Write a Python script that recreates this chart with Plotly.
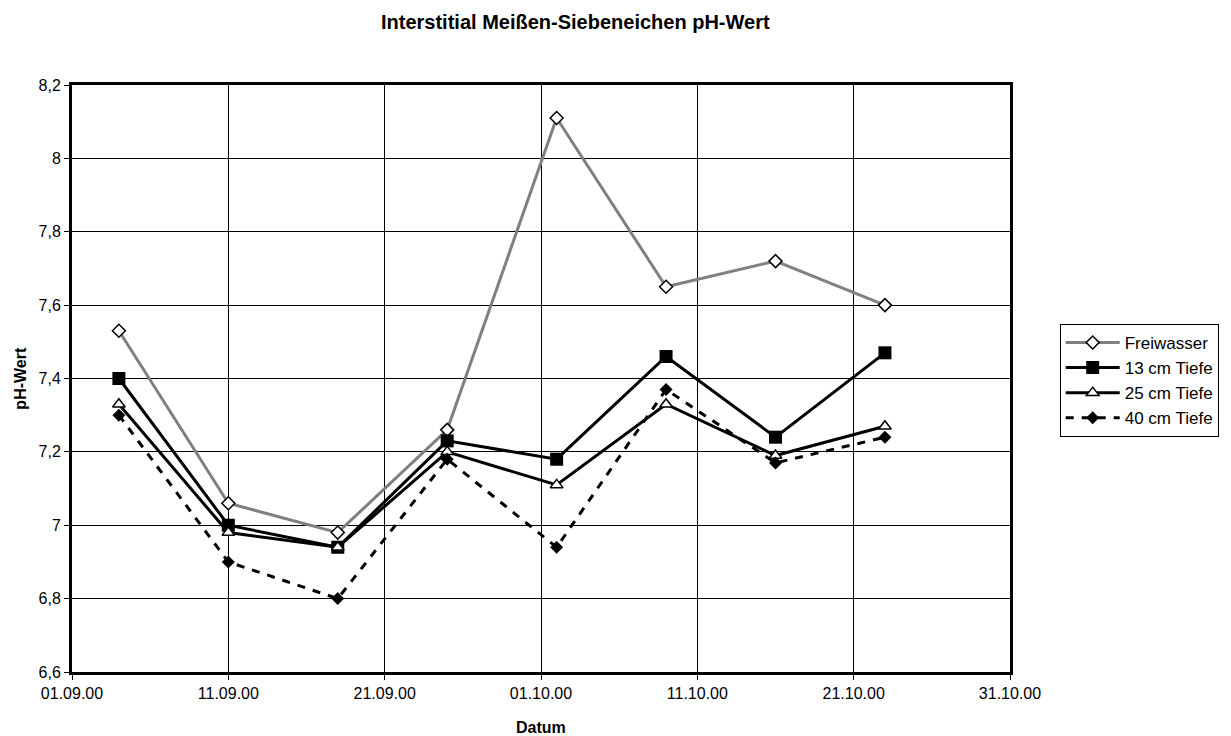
import plotly.graph_objects as go

# Sampling dates (weekly) and pH readings per depth
dates = ["2000-09-04", "2000-09-11", "2000-09-18", "2000-09-25",
         "2000-10-02", "2000-10-09", "2000-10-16", "2000-10-23"]
freiwasser = [7.53, 7.06, 6.98, 7.26, 8.11, 7.65, 7.72, 7.60]
tiefe_13 = [7.40, 7.00, 6.94, 7.23, 7.18, 7.46, 7.24, 7.47]
tiefe_25 = [7.33, 6.98, 6.94, 7.20, 7.11, 7.33, 7.19, 7.27]
tiefe_40 = [7.30, 6.90, 6.80, 7.18, 6.94, 7.37, 7.17, 7.24]

# Axis ticks
x_tickvals = ["2000-09-01", "2000-09-11", "2000-09-21", "2000-10-01",
              "2000-10-11", "2000-10-21", "2000-10-31"]
x_ticktext = ["01.09.00", "11.09.00", "21.09.00", "01.10.00",
              "11.10.00", "21.10.00", "31.10.00"]
y_tickvals = [6.6, 6.8, 7.0, 7.2, 7.4, 7.6, 7.8, 8.0, 8.2]
y_ticktext = ["6,6", "6,8", "7", "7,2", "7,4", "7,6", "7,8", "8", "8,2"]

FONT = "Arial, Liberation Sans, sans-serif"

fig = go.Figure()

fig.add_trace(go.Scatter(
    x=dates, y=freiwasser, name="Freiwasser", mode="lines+markers",
    line=dict(color="#808080", width=3),
    marker=dict(symbol="diamond", size=10, color="white",
                line=dict(color="black", width=1.5)),
))
fig.add_trace(go.Scatter(
    x=dates, y=tiefe_13, name="13 cm Tiefe", mode="lines+markers",
    line=dict(color="black", width=3),
    marker=dict(symbol="square", size=13, color="black",
                line=dict(color="black", width=0)),
))
fig.add_trace(go.Scatter(
    x=dates, y=tiefe_25, name="25 cm Tiefe", mode="lines+markers",
    line=dict(color="black", width=3),
    marker=dict(symbol="triangle-up", size=11, color="white",
                line=dict(color="black", width=1.5)),
))
fig.add_trace(go.Scatter(
    x=dates, y=tiefe_40, name="40 cm Tiefe", mode="lines+markers",
    line=dict(color="black", width=3, dash="8px,8px"),
    marker=dict(symbol="diamond", size=10, color="black",
                line=dict(color="black", width=0)),
))

fig.update_layout(
    width=1231, height=736,
    margin=dict(l=72, r=218, t=85, b=64),
    paper_bgcolor="white", plot_bgcolor="white",
    font=dict(family=FONT, size=16, color="black"),
    showlegend=True,
    legend=dict(
        x=1.053, y=0.593, xanchor="left", yanchor="top",
        bgcolor="white", bordercolor="black", borderwidth=1,
        font=dict(family=FONT, size=17, color="black"),
        tracegroupgap=0, itemwidth=54,
    ),
    annotations=[
        dict(text="<b>Interstitial Meißen-Siebeneichen pH-Wert</b>",
             xref="paper", yref="paper", x=0.5367, y=1.107,
             xanchor="center", yanchor="middle", showarrow=False,
             font=dict(family=FONT, size=20, color="black")),
        dict(text="<b>Datum</b>", xref="paper", yref="paper",
             x=0.5, y=-0.0954, xanchor="center", yanchor="middle",
             showarrow=False, font=dict(family=FONT, size=16, color="black")),
        dict(text="<b>pH-Wert</b>", xref="paper", yref="paper",
             x=-0.0553, y=0.5, xanchor="center", yanchor="middle",
             textangle=-90, showarrow=False,
             font=dict(family=FONT, size=16, color="black")),
    ],
)

fig.update_xaxes(
    type="date", range=["2000-09-01", "2000-10-31"],
    tickvals=x_tickvals, ticktext=x_ticktext,
    showgrid=True, gridcolor="black", gridwidth=1,
    showline=True, linecolor="black", linewidth=3, mirror=True,
    ticks="outside", ticklen=5, tickcolor="black", tickwidth=1,
    tickfont=dict(family=FONT, size=16, color="black"),
    zeroline=False,
)
fig.update_yaxes(
    range=[6.6, 8.2],
    tickvals=y_tickvals, ticktext=y_ticktext,
    showgrid=True, gridcolor="black", gridwidth=1,
    showline=True, linecolor="black", linewidth=3, mirror=True,
    ticks="outside", ticklen=5, tickcolor="black", tickwidth=1,
    tickfont=dict(family=FONT, size=16, color="black"),
    zeroline=False,
)

fig.write_html("out.html")
